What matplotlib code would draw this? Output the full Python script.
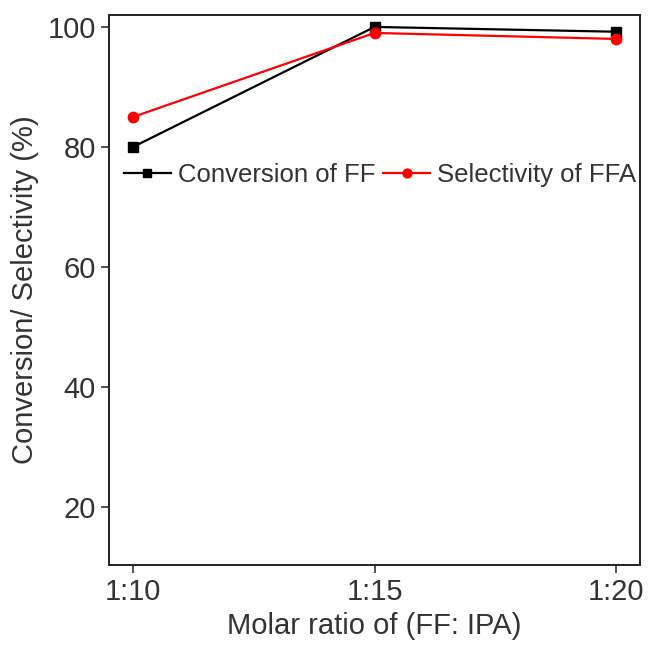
import numpy as np
import matplotlib.pyplot as plt

# DATA
ratios = ['1:10', '1:15', '1:20']
conversion_ff = [80, 100, 99.2]
selectivity_ffa = [85, 99, 98]

plt.rcParams['font.family'] = ['Liberation Sans', 'DejaVu Sans']

fig = plt.figure(figsize=(6.52, 6.49), dpi=100)
ax = fig.add_axes([0.167, 0.129, 0.815, 0.848])

x = np.arange(len(ratios))
ax.plot(x, conversion_ff, color='black', marker='s', markersize=7.5, lw=1.6,
        label='Conversion of FF')
ax.plot(x, selectivity_ffa, color='red', marker='o', markersize=7.5, lw=1.6,
        label='Selectivity of FFA')

ax.set_xlim(-0.1, 2.1)
ax.set_ylim(10.3, 102)
ax.set_xticks(x)
ax.set_xticklabels(ratios)
ax.set_yticks([20, 40, 60, 80, 100])
ax.tick_params(axis='both', labelsize=21, direction='out', length=6, width=1.2,
               color='#333333', labelcolor='#333333')
for s in ax.spines.values():
    s.set_linewidth(1.4)
    s.set_color('#222222')

ax.set_xlabel('Molar ratio of (FF: IPA)', fontsize=21, color='#333333', labelpad=4)
ax.set_ylabel('Conversion/ Selectivity (%)', fontsize=21, color='#333333', labelpad=6)

ax.legend(loc='center left', bbox_to_anchor=(0.0, 0.71), ncol=2, frameon=False,
          fontsize=18.5, handlelength=1.8, handletextpad=0.3, columnspacing=0.3,
          borderaxespad=0.2, labelcolor='#333333', markerscale=0.85)

fig.savefig('out.png', dpi=100)
